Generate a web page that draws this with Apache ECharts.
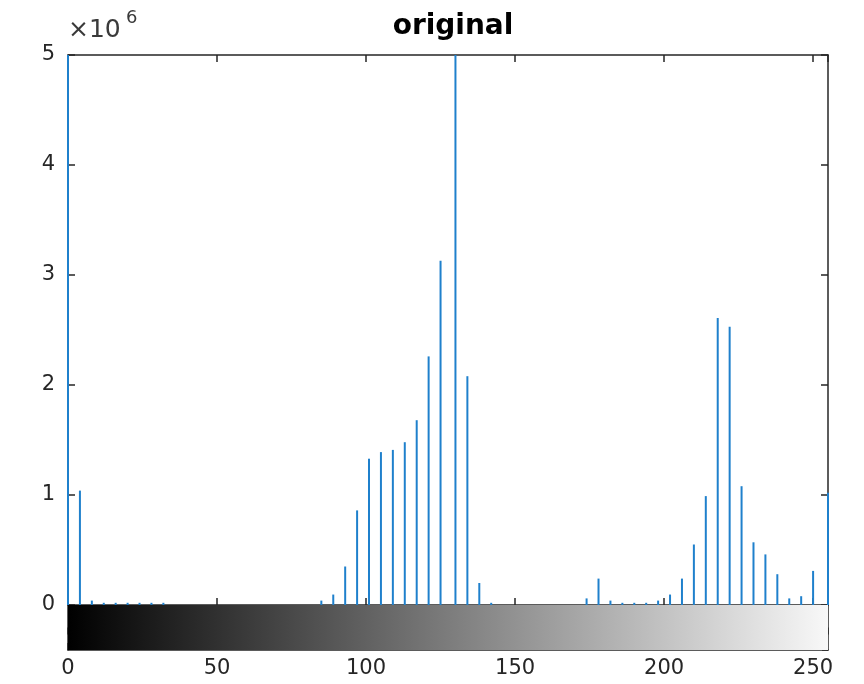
<!DOCTYPE html>
<html>
<head>
<meta charset="utf-8">
<script src="https://cdn.jsdelivr.net/npm/echarts@6/dist/echarts.min.js"></script>
<style>
html,body{margin:0;padding:0;background:#fff;}
#chart{width:864px;height:684px;}
</style>
</head>
<body>
<div id="chart"></div>
<script>
// Gray levels (bins) and pixel counts
var grayLevels = [0,4,8,12,16,20,24,28,32,
  85,89,93,97,101,105,109,113,117,121,125,130,134,138,142,
  174,178,182,186,190,194,198,202,206,210,214,218,222,226,230,234,238,242,246,250,255];
var pixelCounts = [5600000,1040000,40000,20000,20000,20000,20000,20000,20000,
  40000,95000,350000,860000,1330000,1390000,1410000,1480000,1680000,2260000,3130000,5400000,2080000,200000,20000,
  60000,240000,40000,20000,20000,20000,40000,95000,240000,550000,990000,2610000,2530000,1080000,570000,460000,280000,60000,80000,310000,1020000];
var xTicks = [0,50,100,150,200,250];
var yTicks = [0,1,2,3,4,5];
var titleText = 'original';
var exponentText = '6';

var histData = grayLevels.map(function(g,i){return [g, pixelCounts[i]];});

var axisColor = '#262626';
var FONT = 'DejaVu Sans';
var chart = echarts.init(document.getElementById('chart'), null, {renderer:'canvas'});

var lineStyle = {color: axisColor, width: 1.5};
var tickIn = {show:true, inside:true, length:7, lineStyle:{color:axisColor, width:1.5}};

var option = {
  animation:false,
  backgroundColor:'#fff',
  title:{text:titleText, left:448, textAlign:'center', top:8,
    textStyle:{fontFamily:FONT, fontWeight:'bold', fontSize:28, color:'#000'}},
  graphic:[
    {type:'text', left:68, top:18, style:{text:'\u00d710', fontFamily:FONT, fontSize:25, fill:'#3a3a3a'}},
    {type:'text', left:126, top:9, style:{text:exponentText, fontFamily:FONT, fontSize:18, fill:'#3a3a3a'}}
  ],
  grid:[
    {left:68, top:55, width:760, height:550, show:false},
    {left:68, top:605, width:760, height:45, show:false}
  ],
  xAxis:[
    {gridIndex:0, type:'value', min:0, max:255, interval:50, position:'bottom',
      axisLine:{show:true, onZero:false, lineStyle:lineStyle}, axisTick:tickIn,
      axisLabel:{show:false}, splitLine:{show:false}},
    {gridIndex:0, type:'value', min:0, max:255, interval:50, position:'top',
      axisLine:{show:true, onZero:false, lineStyle:lineStyle}, axisTick:tickIn,
      axisLabel:{show:false}, splitLine:{show:false}},
    {gridIndex:1, type:'value', min:0, max:255, interval:50, position:'bottom',
      axisLine:{show:true, onZero:false, lineStyle:lineStyle}, axisTick:tickIn,
      axisLabel:{show:true, margin:8, fontFamily:FONT, fontSize:21, color:axisColor, showMaxLabel:false,
        formatter:function(v){return xTicks.indexOf(v)>=0 ? String(v) : '';}},
      splitLine:{show:false}},
    {gridIndex:1, type:'value', min:0, max:255, interval:50, position:'top',
      axisLine:{show:false}, axisTick:tickIn,
      axisLabel:{show:false}, splitLine:{show:false}}
  ],
  yAxis:[
    {gridIndex:0, type:'value', min:0, max:5000000, interval:1000000, position:'left',
      axisLine:{show:true, onZero:false, lineStyle:lineStyle}, axisTick:tickIn,
      axisLabel:{show:true, margin:13, fontFamily:FONT, fontSize:21, color:axisColor,
        formatter:function(v){var k=v/1000000; return yTicks.indexOf(k)>=0 ? String(k) : '';}},
      splitLine:{show:false}},
    {gridIndex:0, type:'value', min:0, max:5000000, interval:1000000, position:'right',
      axisLine:{show:true, onZero:false, lineStyle:lineStyle}, axisTick:tickIn,
      axisLabel:{show:false}, splitLine:{show:false}},
    {gridIndex:1, type:'value', min:-1, max:1, interval:1, position:'left',
      axisLine:{show:true, onZero:false, lineStyle:lineStyle}, axisTick:{show:false},
      axisLabel:{show:false}, splitLine:{show:false}},
    {gridIndex:1, type:'value', min:-1, max:1, interval:1, position:'right',
      axisLine:{show:true, onZero:false, lineStyle:lineStyle},
      axisTick:{show:true, inside:true, length:6, lineStyle:{color:axisColor, width:1.5}},
      axisLabel:{show:false}, splitLine:{show:false}}
  ],
  series:[
    {type:'custom', xAxisIndex:2, yAxisIndex:2, z:1, clip:true,
      data:[[0,255]],
      renderItem:function(params, api){
        var p0 = api.coord([api.value(0), 1]);
        var p1 = api.coord([api.value(1), -1]);
        return {type:'rect', shape:{x:p0[0], y:p0[1], width:p1[0]-p0[0], height:p1[1]-p0[1]},
          style:{fill:new echarts.graphic.LinearGradient(0,0,1,0,[
            {offset:0,color:'#000000'},{offset:1,color:'#f8f8f8'}])}};
      }},
    {type:'bar', xAxisIndex:0, yAxisIndex:0, data:histData, barWidth:2, clip:true,
      itemStyle:{color:'#1f80cc'}, z:2}
  ]
};
chart.setOption(option);
</script>
</body>
</html>
